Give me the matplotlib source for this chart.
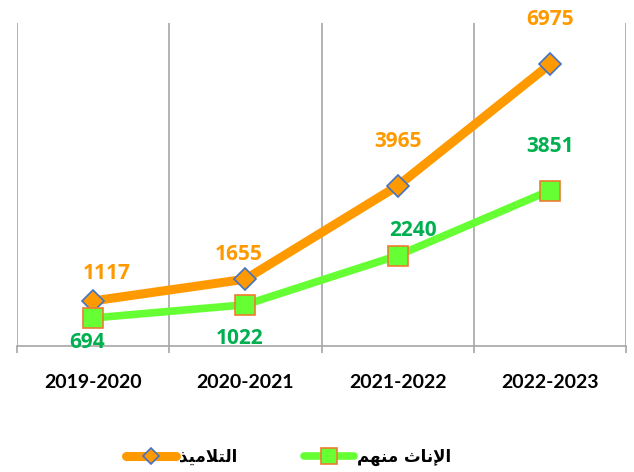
import numpy as np
import matplotlib.pyplot as plt

# yearly counts
years = ['2019-2020', '2020-2021', '2021-2022', '2022-2023']
pupils = [1117, 1655, 3965, 6975]
girls = [694, 1022, 2240, 3851]

# legend names, written in presentation forms so the glyphs join without a shaper
# التلاميذ
name_pupils = '\ufeac\ufef4\ufee3\ufefc\ufe98\ufedf\ufe8d'
# الإناث منهم
name_girls = '\ufee2\ufeec\ufee8\ufee3 \ufe99\ufe8e\ufee7\ufef9\ufe8d'

orange = '#FF9900'
green = '#66FF33'
green_txt = '#00B050'
grid = '#A6A6A6'

fig = plt.figure(figsize=(6.34, 4.72), dpi=100)
ax = fig.add_axes([17/634, 1-346/472, 609/634, 323/472])

x = np.arange(len(years))
ax.plot(x, pupils, color=orange, lw=6.5, marker='D', ms=11,
        mfc=orange, mec='#4472C4', mew=1.2, solid_capstyle='round',
        label=name_pupils, zorder=3)
ax.plot(x, girls, color=green, lw=5.5, marker='s', ms=15,
        mfc=green, mec='#ED7D31', mew=1.2, solid_capstyle='round',
        label=name_girls, zorder=3)

# label offsets in points (dx, dy)
off_p = [(10, 20), (-5, 18), (0, 32), (0, 32)]
off_g = [(-4, -18), (-4, -24), (11, 18), (0, 32)]
lab_font = dict(fontsize=15, fontweight='bold', family='Open Sans',
                ha='center', va='center')
for i, v in enumerate(pupils):
    ax.annotate(str(v), (x[i], v), xytext=off_p[i], textcoords='offset points',
                color=orange, **lab_font)
for i, v in enumerate(girls):
    ax.annotate(str(v), (x[i], v), xytext=off_g[i], textcoords='offset points',
                color=green_txt, **lab_font)

ax.set_xlim(-0.5, 3.5)
ax.set_ylim(0, 8000)
ax.set_yticks([])
for b in np.arange(-0.5, 4, 1):
    ax.axvline(b, color=grid, lw=1.2, zorder=1)

ax.set_xticks(x)
ax.set_xticklabels(years, fontsize=14, fontweight='bold', family='Lato')
ax.tick_params(axis='x', which='major', length=0, pad=20)
ax.set_xticks(np.arange(-0.5, 4, 1), minor=True)
ax.tick_params(axis='x', which='minor', length=5, color=grid, width=1.2)

for s in ['top', 'right', 'left']:
    ax.spines[s].set_visible(False)
ax.spines['bottom'].set_color(grid)
ax.spines['bottom'].set_linewidth(1.2)

fig.legend(loc='center', bbox_to_anchor=(0.455, 1-457/472), ncol=2, frameon=False,
           prop={'family': 'DejaVu Sans', 'weight': 'bold', 'size': 12},
           handlelength=3.0, columnspacing=4.0, handletextpad=0.2, markerscale=0.75)

fig.savefig('out.png', dpi=100)
